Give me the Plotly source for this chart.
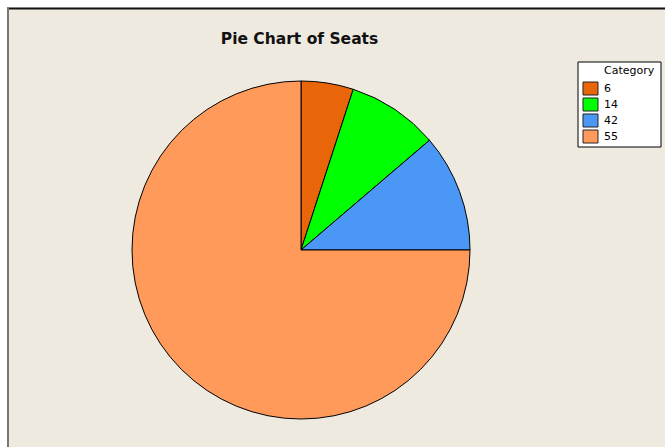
import plotly.graph_objects as go

W, H = 665, 447
categories = ["6", "14", "42", "55"]
counts = [4, 7, 9, 60]
colors = ["#E8650A", "#00FF00", "#4A97F5", "#FF9A5A"]
legend_title = "Category"
chart_title = "Pie Chart of Seats"

cx, cy, r = 301, 250, 169


def px(x):
    return x / W


def py(y):
    return 1 - y / H


fig = go.Figure(go.Pie(
    labels=categories,
    values=counts,
    sort=False,
    direction="clockwise",
    rotation=0,
    textinfo="none",
    hoverinfo="label+value+percent",
    showlegend=False,
    marker=dict(colors=colors, line=dict(color="black", width=1)),
    domain=dict(x=[px(cx - r), px(cx + r)], y=[py(cy + r), py(cy - r)]),
))

shapes = [
    # white strip outside the chart frame
    dict(type="rect", xref="paper", yref="paper", x0=0, x1=1, y0=py(7.5), y1=1,
         fillcolor="white", line=dict(width=0), layer="below"),
    dict(type="rect", xref="paper", yref="paper", x0=0, x1=px(7), y0=0, y1=1,
         fillcolor="white", line=dict(width=0), layer="below"),
    dict(type="line", xref="paper", yref="paper", x0=px(7), x1=1, y0=py(8.5), y1=py(8.5),
         line=dict(color="#111", width=2), layer="below"),
    dict(type="line", xref="paper", yref="paper", x0=px(8), x1=px(8), y0=0, y1=py(8),
         line=dict(color="#777", width=2), layer="below"),
    # legend box
    dict(type="rect", xref="paper", yref="paper", x0=px(578), x1=px(661), y0=py(147), y1=py(62),
         fillcolor="white", line=dict(color="black", width=1)),
]
annotations = [
    dict(text=legend_title, xref="paper", yref="paper", x=px(602), y=py(70), xanchor="left",
         yanchor="middle", showarrow=False, font=dict(family="DejaVu Sans", size=11, color="black")),
]
for i, (cat, col) in enumerate(zip(categories, colors)):
    top = 82 + 16 * i
    shapes.append(dict(type="rect", xref="paper", yref="paper", x0=px(583), x1=px(598),
                       y0=py(top + 13), y1=py(top), fillcolor=col,
                       line=dict(color="#222", width=1)))
    annotations.append(dict(text=cat, xref="paper", yref="paper", x=px(602), y=py(top + 6.5),
                            xanchor="left", yanchor="middle", showarrow=False,
                            font=dict(family="DejaVu Sans", size=11, color="black")))

fig.update_layout(
    width=W, height=H,
    margin=dict(l=0, r=0, t=0, b=0),
    paper_bgcolor="#EEEAE0",
    plot_bgcolor="rgba(0,0,0,0)",
    font=dict(family="DejaVu Sans", color="black", size=11),
    title=dict(text="<b>" + chart_title + "</b>", x=px(299.5), xanchor="center",
               y=py(39), yanchor="middle", yref="container", xref="container",
               font=dict(family="DejaVu Sans", size=15.5, color="#111")),
    showlegend=False,
    shapes=shapes,
    annotations=annotations,
)

fig.write_html(
    "out.html",
    config={"displayModeBar": False},
    post_script="document.body.style.margin='0';document.body.style.overflow='hidden';",
)
